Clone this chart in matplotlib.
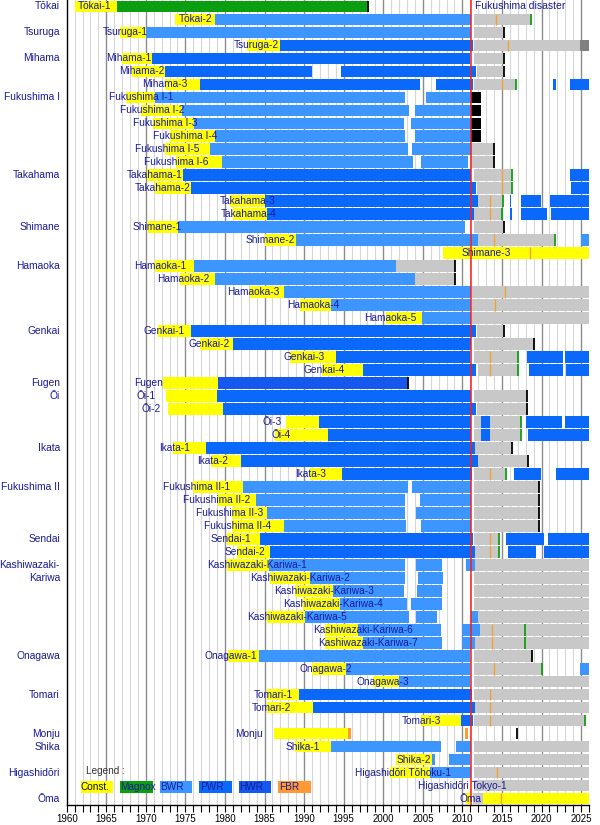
from typing import Dict, List, Tuple

import matplotlib.pyplot as plt
from matplotlib.patches import Rectangle
from matplotlib.transforms import blended_transform_factory

Span = Tuple[float, float]

FIRST_YEAR = 1960
LAST_YEAR = 2026
DISASTER = 2011.1

reactors: List[str] = [
    "Tōkai-1", "Tōkai-2", "Tsuruga-1", "Tsuruga-2",
    "Mihama-1", "Mihama-2", "Mihama-3",
    "Fukushima I-1", "Fukushima I-2", "Fukushima I-3",
    "Fukushima I-4", "Fukushima I-5", "Fukushima I-6",
    "Takahama-1", "Takahama-2", "Takahama-3", "Takahama-4",
    "Shimane-1", "Shimane-2", "Shimane-3",
    "Hamaoka-1", "Hamaoka-2", "Hamaoka-3", "Hamaoka-4", "Hamaoka-5",
    "Genkai-1", "Genkai-2", "Genkai-3", "Genkai-4",
    "Fugen", "Ōi-1", "Ōi-2", "Ōi-3", "Ōi-4",
    "Ikata-1", "Ikata-2", "Ikata-3",
    "Fukushima II-1", "Fukushima II-2", "Fukushima II-3", "Fukushima II-4",
    "Sendai-1", "Sendai-2",
    "Kashiwazaki-Kariwa-1", "Kashiwazaki-Kariwa-2", "Kashiwazaki-Kariwa-3",
    "Kashiwazaki-Kariwa-4", "Kashiwazaki-Kariwa-5", "Kashiwazaki-Kariwa-6",
    "Kashiwazaki-Kariwa-7",
    "Onagawa-1", "Onagawa-2", "Onagawa-3",
    "Tomari-1", "Tomari-2", "Tomari-3",
    "Monju", "Shika-1", "Shika-2",
    "Higashidōri Tōhoku-1", "Higashidōri Tokyo-1", "Ōma",
]

# plant name -> first row of that plant
plants: List[Tuple[str, int]] = [
    ("Tōkai", 0), ("Tsuruga", 2), ("Mihama", 4), ("Fukushima I", 7),
    ("Takahama", 13), ("Shimane", 17), ("Hamaoka", 20), ("Genkai", 25),
    ("Fugen", 29), ("Ōi", 30), ("Ikata", 34), ("Fukushima II", 37),
    ("Sendai", 41), ("Kashiwazaki-", 43), ("Kariwa", 44), ("Onagawa", 50),
    ("Tomari", 53), ("Monju", 56), ("Shika", 57), ("Higashidōri", 59),
    ("Ōma", 61),
]

kind: Dict[str, str] = {"Tōkai-1": "Magnox", "Fugen": "HWR", "Monju": "FBR"}
for _n in reactors:
    if _n.split("-")[0] in ("Tsuruga", "Mihama", "Takahama", "Genkai", "Ōi",
                            "Ikata", "Sendai", "Tomari") and _n != "Tsuruga-1":
        kind[_n] = "PWR"
    kind.setdefault(_n, "BWR")

# right end of each reactor's label (year)
label_at: Dict[str, float] = {
    "Tōkai-1": 1965.68, "Tōkai-2": 1978.38, "Tsuruga-1": 1970.3,
    "Tsuruga-2": 1986.81, "Mihama-1": 1970.73, "Mihama-2": 1972.29,
    "Mihama-3": 1975.28, "Fukushima I-1": 1973.46, "Fukushima I-2": 1974.85,
    "Fukushima I-3": 1976.54, "Fukushima I-4": 1979.02, "Fukushima I-5": 1976.74,
    "Fukushima I-6": 1977.88, "Takahama-1": 1974.65, "Takahama-2": 1975.69,
    "Takahama-3": 1986.43, "Takahama-4": 1986.52, "Shimane-1": 1974.52,
    "Shimane-2": 1988.83, "Shimane-3": 2016.1, "Hamaoka-1": 1975.15,
    "Hamaoka-2": 1978.09, "Hamaoka-3": 1986.93, "Hamaoka-4": 1994.47,
    "Hamaoka-5": 2004.19, "Genkai-1": 1974.94, "Genkai-2": 1980.62,
    "Genkai-3": 1992.61, "Genkai-4": 1995.14, "Fugen": 1972.2, "Ōi-1": 1971.24,
    "Ōi-2": 1971.91, "Ōi-3": 1987.15, "Ōi-4": 1988.28, "Ikata-1": 1975.57,
    "Ikata-2": 1980.4, "Ikata-3": 1992.83, "Fukushima II-1": 1980.62,
    "Fukushima II-2": 1983.23, "Fukushima II-3": 1984.82,
    "Fukushima II-4": 1985.88, "Sendai-1": 1983.36, "Sendai-2": 1985.04,
    "Kashiwazaki-Kariwa-1": 1990.38, "Kashiwazaki-Kariwa-2": 1995.77,
    "Kashiwazaki-Kariwa-3": 1998.8, "Kashiwazaki-Kariwa-4": 1999.9,
    "Kashiwazaki-Kariwa-5": 1995.35, "Kashiwazaki-Kariwa-6": 2003.69,
    "Kashiwazaki-Kariwa-7": 2004.39, "Onagawa-1": 1983.99, "Onagawa-2": 1996.11,
    "Onagawa-3": 2003.22, "Tomari-1": 1988.54, "Tomari-2": 1988.32,
    "Tomari-3": 2007.35, "Monju": 1984.82, "Shika-1": 1992.0, "Shika-2": 2006.09,
    "Higashidōri Tōhoku-1": 2008.6, "Higashidōri Tokyo-1": 2015.63, "Ōma": 2012.4,
}

# construction
build: Dict[str, List[Span]] = {
    "Tōkai-1": [(1961.05, 1966.31)], "Tōkai-2": [(1973.67, 1978.72)],
    "Tsuruga-1": [(1966.73, 1969.97)], "Tsuruga-2": [(1982.73, 1986.93)],
    "Mihama-1": [(1966.94, 1970.73)], "Mihama-2": [(1968.21, 1972.41)],
    "Mihama-3": [(1972.41, 1976.83)],
    "Fukushima I-1": [(1967.5, 1971.2)], "Fukushima I-2": [(1969.45, 1974.52)],
    "Fukushima I-3": [(1970.9, 1976.07)], "Fukushima I-4": [(1973.1, 1978.72)],
    "Fukushima I-5": [(1972.4, 1978.09)], "Fukushima I-6": [(1973.8, 1979.57)],
    "Takahama-1": [(1970.1, 1974.72)], "Takahama-2": [(1971.2, 1975.7)],
    "Takahama-3": [(1980.6, 1985.0)], "Takahama-4": [(1981.0, 1985.25)],
    "Shimane-1": [(1970.3, 1974.1)], "Shimane-2": [(1985.0, 1988.95)],
    "Shimane-3": [(2007.6, 2026.0)],
    "Hamaoka-1": [(1971.15, 1976.1)], "Hamaoka-2": [(1974.3, 1978.7)],
    "Hamaoka-3": [(1983.15, 1987.4)], "Hamaoka-4": [(1989.45, 1993.45)],
    "Hamaoka-5": [(2000.4, 2004.9)],
    "Genkai-1": [(1971.6, 1975.7)], "Genkai-2": [(1976.8, 1981.0)],
    "Genkai-3": [(1988.2, 1994.0)], "Genkai-4": [(1992.2, 1997.45)],
    "Fugen": [(1972.2, 1979.14)],
    "Ōi-1": [(1972.6, 1979.02)], "Ōi-2": [(1972.75, 1979.7)],
    "Ōi-3": [(1987.7, 1991.85)], "Ōi-4": [(1986.3, 1993.0)],
    "Ikata-1": [(1973.45, 1977.6)], "Ikata-2": [(1978.2, 1982.0)],
    "Ikata-3": [(1990.8, 1994.8)],
    "Fukushima II-1": [(1975.9, 1982.22)], "Fukushima II-2": [(1979.1, 1983.9)],
    "Fukushima II-3": [(1980.9, 1985.33)], "Fukushima II-4": [(1980.9, 1987.44)],
    "Sendai-1": [(1980.2, 1984.41)], "Sendai-2": [(1981.5, 1985.7)],
    "Kashiwazaki-Kariwa-1": [(1980.2, 1985.58)],
    "Kashiwazaki-Kariwa-2": [(1985.7, 1990.7)],
    "Kashiwazaki-Kariwa-3": [(1988.8, 1993.6)],
    "Kashiwazaki-Kariwa-4": [(1989.9, 1994.5)],
    "Kashiwazaki-Kariwa-5": [(1985.25, 1990.1)],
    "Kashiwazaki-Kariwa-6": [(1992.7, 1996.82)],
    "Kashiwazaki-Kariwa-7": [(1992.7, 1997.4)],
    "Onagawa-1": [(1980.4, 1984.3)], "Onagawa-2": [(1991.0, 1995.35)],
    "Onagawa-3": [(1998.7, 2001.99)],
    "Tomari-1": [(1985.25, 1989.35)], "Tomari-2": [(1985.25, 1991.14)],
    "Tomari-3": [(2004.82, 2009.78)],
    "Monju": [(1986.21, 1995.56)],
    "Shika-1": [(1988.9, 1993.45)], "Shika-2": [(2001.6, 2006.16)],
    "Higashidōri Tōhoku-1": [(2000.9, 2005.87)],
    "Higashidōri Tokyo-1": [(2011.0, 2011.15)],
    "Ōma": [(2010.4, 2011.15), (2012.6, 2026.0)],
}

# in operation
run: Dict[str, List[Span]] = {
    "Tōkai-1": [(1966.31, 1998.08)], "Tōkai-2": [(1978.72, 2011.05)],
    "Tsuruga-1": [(1969.97, 2011.05)], "Tsuruga-2": [(1986.93, 2011.34)],
    "Mihama-1": [(1970.73, 2011.0)],
    "Mihama-2": [(1972.41, 1991.06), (1994.63, 2011.77)],
    "Mihama-3": [(1976.83, 2004.61), (2006.63, 2011.34), (2021.44, 2021.87),
                 (2023.55, 2026.0)],
    "Fukushima I-1": [(1971.2, 2002.8), (2005.45, 2011.05)],
    "Fukushima I-2": [(1974.52, 2003.22), (2004.07, 2011.05)],
    "Fukushima I-3": [(1976.07, 2002.59), (2003.47, 2011.05)],
    "Fukushima I-4": [(1978.72, 2002.75), (2004.07, 2011.05)],
    "Fukushima I-5": [(1978.09, 2003.13), (2003.64, 2011.05)],
    "Fukushima I-6": [(1979.57, 2003.76), (2004.73, 2010.7)],
    "Takahama-1": [(1974.72, 2011.05), (2023.55, 2026.0)],
    "Takahama-2": [(1975.7, 2011.77), (2023.68, 2026.0)],
    "Takahama-3": [(1985.0, 2011.97), (2015.97, 2016.19), (2017.36, 2019.97),
                   (2021.11, 2026.0)],
    "Takahama-4": [(1985.25, 2011.43), (2016.06, 2016.26), (2017.36, 2020.73),
                   (2021.15, 2026.0)],
    "Shimane-1": [(1974.1, 2010.3)],
    "Shimane-2": [(1988.95, 2011.97), (2024.93, 2026.0)],
    "Hamaoka-1": [(1976.1, 2001.67)], "Hamaoka-2": [(1978.7, 2003.98)],
    "Hamaoka-3": [(1987.4, 2011.05)], "Hamaoka-4": [(1993.45, 2011.05)],
    "Hamaoka-5": [(2004.9, 2011.05)],
    "Genkai-1": [(1975.7, 2011.77)], "Genkai-2": [(1981.0, 2011.05)],
    "Genkai-3": [(1994.0, 2011.0), (2018.16, 2022.7), (2023.0, 2026.0)],
    "Genkai-4": [(1997.45, 2011.7), (2018.41, 2022.7), (2023.04, 2026.0)],
    "Fugen": [(1979.14, 2003.13)],
    "Ōi-1": [(1979.02, 2011.05)], "Ōi-2": [(1979.7, 2011.77)],
    "Ōi-3": [(1991.85, 2011.05), (2012.39, 2013.53), (2018.08, 2022.62),
             (2023.0, 2026.0)],
    "Ōi-4": [(1993.0, 2011.05), (2012.39, 2013.45), (2018.28, 2026.0)],
    "Ikata-1": [(1977.6, 2011.55)], "Ikata-2": [(1982.0, 2011.97)],
    "Ikata-3": [(1994.8, 2011.26), (2016.48, 2019.97), (2021.78, 2026.0)],
    "Fukushima II-1": [(1982.22, 2003.13), (2003.64, 2011.05)],
    "Fukushima II-2": [(1983.9, 2002.71), (2004.61, 2011.05)],
    "Fukushima II-3": [(1985.33, 2002.71), (2004.1, 2011.05)],
    "Fukushima II-4": [(1987.44, 2002.84), (2004.73, 2011.05)],
    "Sendai-1": [(1984.41, 2011.34), (2015.47, 2020.27), (2020.81, 2026.0)],
    "Sendai-2": [(1985.7, 2011.55), (2015.76, 2019.26), (2020.3, 2026.0)],
    "Kashiwazaki-Kariwa-1": [(1985.58, 2002.71), (2004.19, 2007.42),
                             (2010.5, 2011.55)],
    "Kashiwazaki-Kariwa-2": [(1990.7, 2002.71), (2004.39, 2007.55)],
    "Kashiwazaki-Kariwa-3": [(1993.6, 2002.59), (2004.27, 2007.47)],
    "Kashiwazaki-Kariwa-4": [(1994.5, 2003.05), (2003.47, 2007.47)],
    "Kashiwazaki-Kariwa-5": [(1990.1, 2003.22), (2004.19, 2006.84),
                             (2011.13, 2011.97)],
    "Kashiwazaki-Kariwa-6": [(1996.82, 2007.35), (2009.95, 2012.18)],
    "Kashiwazaki-Kariwa-7": [(1997.4, 2007.47), (2009.95, 2011.55)],
    "Onagawa-1": [(1984.3, 2011.0)],
    "Onagawa-2": [(1995.35, 2011.0), (2024.81, 2026.0)],
    "Onagawa-3": [(2001.99, 2011.0)],
    "Tomari-1": [(1989.35, 2011.26)], "Tomari-2": [(1991.14, 2011.55)],
    "Tomari-3": [(2009.78, 2011.34)],
    "Monju": [(1995.56, 1995.9), (2010.29, 2010.71)],
    "Shika-1": [(1993.45, 2007.26), (2009.15, 2011.05)],
    "Shika-2": [(2006.16, 2006.5), (2008.27, 2011.0)],
    "Higashidōri Tōhoku-1": [(2005.87, 2011.05)],
}

# shut down / suspended
idle: Dict[str, List[Span]] = {
    "Tōkai-2": [(2011.43, 2018.63)], "Tsuruga-1": [(2011.43, 2015.22)],
    "Tsuruga-2": [(2011.43, 2024.81)], "Mihama-1": [(2011.43, 2015.22)],
    "Mihama-2": [(2011.9, 2015.22)], "Mihama-3": [(2011.43, 2016.82)],
    "Fukushima I-5": [(2011.15, 2014.0)], "Fukushima I-6": [(2011.15, 2014.0)],
    "Takahama-1": [(2011.43, 2016.26)], "Takahama-2": [(2011.85, 2016.26)],
    "Takahama-3": [(2011.97, 2015.1)], "Takahama-4": [(2011.5, 2015.05)],
    "Shimane-1": [(2011.43, 2015.22)], "Shimane-2": [(2011.97, 2021.65)],
    "Hamaoka-1": [(2001.67, 2009.03)], "Hamaoka-2": [(2003.98, 2009.03)],
    "Hamaoka-3": [(2011.25, 2026.0)], "Hamaoka-4": [(2011.25, 2026.0)],
    "Hamaoka-5": [(2011.25, 2026.0)],
    "Genkai-1": [(2011.85, 2015.22)], "Genkai-2": [(2011.43, 2019.05)],
    "Genkai-3": [(2011.43, 2017.02)], "Genkai-4": [(2011.95, 2017.02)],
    "Ōi-1": [(2011.45, 2018.2)], "Ōi-2": [(2011.9, 2018.2)],
    "Ōi-3": [(2011.45, 2017.36)], "Ōi-4": [(2011.45, 2017.36)],
    "Ikata-1": [(2011.55, 2016.26)], "Ikata-2": [(2011.97, 2018.28)],
    "Ikata-3": [(2011.43, 2015.55)],
    "Fukushima II-1": [(2011.43, 2019.63)], "Fukushima II-2": [(2011.43, 2019.63)],
    "Fukushima II-3": [(2011.43, 2019.63)], "Fukushima II-4": [(2011.43, 2019.63)],
    "Sendai-1": [(2011.46, 2014.58)], "Sendai-2": [(2011.55, 2014.58)],
    "Kashiwazaki-Kariwa-1": [(2011.55, 2026.0)],
    "Kashiwazaki-Kariwa-2": [(2011.43, 2026.0)],
    "Kashiwazaki-Kariwa-3": [(2011.43, 2026.0)],
    "Kashiwazaki-Kariwa-4": [(2011.43, 2026.0)],
    "Kashiwazaki-Kariwa-5": [(2011.97, 2026.0)],
    "Kashiwazaki-Kariwa-6": [(2012.18, 2026.0)],
    "Kashiwazaki-Kariwa-7": [(2011.55, 2026.0)],
    "Onagawa-1": [(2011.43, 2018.85)], "Onagawa-2": [(2011.43, 2020.05)],
    "Onagawa-3": [(2011.43, 2026.0)],
    "Tomari-1": [(2011.43, 2026.0)], "Tomari-2": [(2011.55, 2026.0)],
    "Tomari-3": [(2011.46, 2025.53)],
    "Shika-1": [(2011.43, 2026.0)], "Shika-2": [(2011.43, 2026.0)],
    "Higashidōri Tōhoku-1": [(2011.43, 2026.0)],
    "Higashidōri Tokyo-1": [(2011.43, 2026.0)],
    "Ōma": [(2011.3, 2012.6)],
}

# destroyed in the disaster
lost: Dict[str, List[Span]] = {
    "Fukushima I-1": [(2011.13, 2012.31)], "Fukushima I-2": [(2011.13, 2012.31)],
    "Fukushima I-3": [(2011.13, 2012.31)], "Fukushima I-4": [(2011.13, 2012.31)],
}

# restart refused
refused: Dict[str, List[Span]] = {"Tsuruga-2": [(2024.81, 2026.0)]}

# safety review applied for
applied: Dict[str, float] = {
    "Tōkai-2": 2014.29, "Tsuruga-2": 2015.76, "Mihama-3": 2015.0,
    "Takahama-1": 2015.0, "Takahama-2": 2015.0, "Takahama-3": 2013.53,
    "Takahama-4": 2013.53, "Shimane-2": 2013.99, "Shimane-3": 2018.5,
    "Hamaoka-3": 2015.34, "Hamaoka-4": 2014.1, "Genkai-3": 2013.53,
    "Genkai-4": 2013.53, "Ikata-3": 2013.53, "Sendai-1": 2013.53,
    "Sendai-2": 2013.53, "Kashiwazaki-Kariwa-6": 2013.74,
    "Kashiwazaki-Kariwa-7": 2013.74, "Onagawa-2": 2013.99, "Tomari-1": 2013.53,
    "Tomari-2": 2013.53, "Tomari-3": 2013.53, "Higashidōri Tōhoku-1": 2014.37,
    "Ōma": 2014.92,
}

# safety review passed
approved: Dict[str, float] = {
    "Tōkai-2": 2018.63, "Mihama-3": 2016.82, "Takahama-1": 2016.26,
    "Takahama-2": 2016.26, "Takahama-3": 2015.1, "Takahama-4": 2015.05,
    "Shimane-2": 2021.65, "Genkai-3": 2017.02, "Genkai-4": 2017.02,
    "Ōi-3": 2017.36, "Ōi-4": 2017.36, "Ikata-3": 2015.55, "Sendai-1": 2014.58,
    "Sendai-2": 2014.58, "Kashiwazaki-Kariwa-6": 2017.87,
    "Kashiwazaki-Kariwa-7": 2017.87, "Onagawa-2": 2020.05, "Tomari-3": 2025.53,
}

# decommissioning decided
closed: Dict[str, float] = {
    "Tōkai-1": 1998.08, "Tsuruga-1": 2015.22, "Mihama-1": 2015.22,
    "Mihama-2": 2015.22, "Fukushima I-5": 2014.0, "Fukushima I-6": 2014.0,
    "Shimane-1": 2015.22, "Hamaoka-1": 2009.03, "Hamaoka-2": 2009.03,
    "Genkai-1": 2015.22, "Genkai-2": 2019.05, "Fugen": 2003.13,
    "Ōi-1": 2018.2, "Ōi-2": 2018.2, "Ikata-1": 2016.26, "Ikata-2": 2018.28,
    "Fukushima II-1": 2019.63, "Fukushima II-2": 2019.63,
    "Fukushima II-3": 2019.63, "Fukushima II-4": 2019.63,
    "Onagawa-1": 2018.85, "Monju": 2016.89,
}

legend_items: List[str] = ["Const.", "Magnox", "BWR", "PWR", "HWR", "FBR"]

COLORS: Dict[str, str] = {
    "Const.": "#ffff00",
    "Magnox": "#0a9e10",
    "BWR": "#3d96ff",
    "PWR": "#0a68fa",
    "HWR": "#1558ee",
    "FBR": "#ff9933",
    "idle": "#c8c8c8",
    "lost": "#000000",
    "refused": "#808080",
}
TEXT = "#1a1a9c"
ROW_H = 0.9


def bars(ax, row: int, pairs: List[Span], color: str) -> None:
    ax.broken_barh([(a, b - a) for a, b in pairs], (row + (1 - ROW_H) / 2, ROW_H),
                   facecolors=color, linewidth=0, zorder=2)


def mark(ax, row: int, year: float, color: str, lw: float) -> None:
    ax.vlines(year, row + (1 - ROW_H) / 2, row + (1 + ROW_H) / 2,
              colors=color, linewidth=lw, zorder=3)


def plot_timeline(fname: str = "out.png") -> None:
    plt.rcParams["font.family"] = ["Liberation Sans", "DejaVu Sans"]
    fig = plt.figure(figsize=(6, 8.25), dpi=100)
    ax = fig.add_axes([66.7 / 600, 20 / 825, (589 - 66.7) / 600, 805 / 825])
    n = len(reactors)
    ax.set_xlim(FIRST_YEAR, LAST_YEAR)
    ax.set_ylim(n, 0)

    for yr in range(FIRST_YEAR + 1, LAST_YEAR):
        if yr % 5 == 0:
            ax.axvline(yr, color="#8c8c8c", linewidth=1.0, zorder=0)
        else:
            ax.axvline(yr, color="#d6d6d6", linewidth=0.8, zorder=0)

    for i, name in enumerate(reactors):
        bars(ax, i, build.get(name, []), COLORS["Const."])
        bars(ax, i, idle.get(name, []), COLORS["idle"])
        bars(ax, i, run.get(name, []), COLORS[kind[name]])
        bars(ax, i, lost.get(name, []), COLORS["lost"])
        bars(ax, i, refused.get(name, []), COLORS["refused"])
        if name in applied:
            mark(ax, i, applied[name], "#f5a030", 1.0)
        if name in approved:
            mark(ax, i, approved[name], "#10a010", 1.3)
        if name in closed:
            mark(ax, i, closed[name], "#000000", 1.3)
        ax.text(label_at[name], i + 0.5, name, ha="right", va="center",
                fontsize=7.3, color=TEXT, zorder=5)

    trans = blended_transform_factory(ax.transAxes, ax.transData)
    for plant, row in plants:
        ax.text(-0.013, row + 0.5, plant, ha="right", va="center",
                fontsize=7.4, color=TEXT, transform=trans, clip_on=False)

    ax.axvline(DISASTER, color="#ff1a1a", linewidth=1.1, zorder=4)
    ax.text(DISASTER + 0.5, 0.5, "Fukushima disaster", ha="left", va="center",
            fontsize=7.5, color=TEXT, zorder=5)

    # legend boxes
    ax.text(1962.4, 59.4, "Legend :", ha="left", va="center",
            fontsize=7.2, color="#333333", zorder=5)
    for j, item in enumerate(legend_items):
        x0 = 1961.75 + 5.0 * j
        ax.add_patch(Rectangle((x0, 60.17), 4.1, 0.9, facecolor=COLORS[item],
                               linewidth=0, zorder=2))
        ax.text(x0 + 0.05, 60.63, item, ha="left", va="center", fontsize=7.2,
                color="#111111" if item == "Const." else TEXT, zorder=5)

    ax.set_xticks(range(FIRST_YEAR, LAST_YEAR, 5))
    ax.set_xticks(range(FIRST_YEAR, LAST_YEAR + 1), minor=True)
    ax.set_yticks([])
    ax.tick_params(axis="x", which="both", direction="out", length=4.8,
                   width=0.8, labelsize=7, pad=1.5)
    for side in ("top", "right"):
        ax.spines[side].set_visible(False)
    ax.spines["left"].set_linewidth(1.0)
    ax.spines["bottom"].set_linewidth(1.0)

    fig.savefig(fname, dpi=100)
    plt.close(fig)


if __name__ == "__main__":
    plot_timeline()
